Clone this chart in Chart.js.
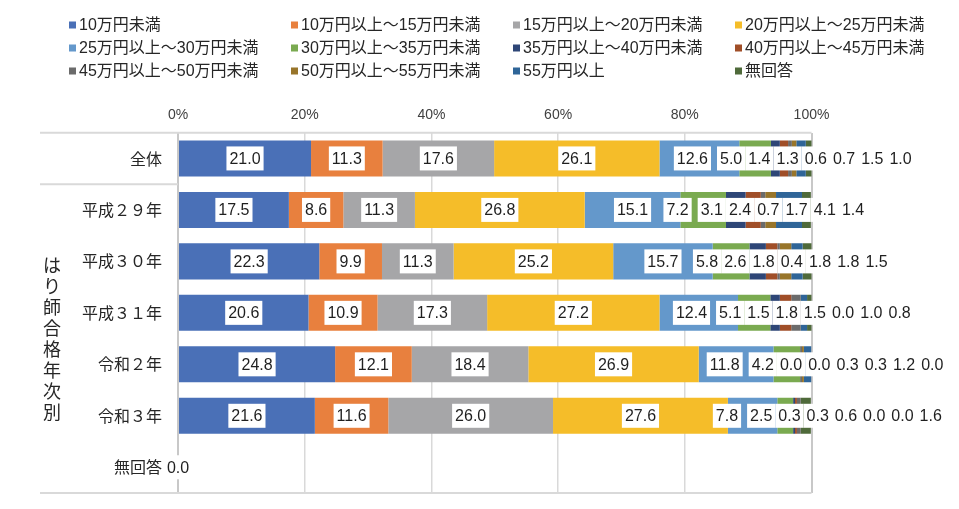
<!DOCTYPE html>
<html lang="ja">
<head>
<meta charset="utf-8">
<script src="https://cdn.jsdelivr.net/npm/chart.js@4.4.1/dist/chart.umd.min.js"></script>
<style>
  html, body { margin: 0; padding: 0; background: #fff; }
  #wrap { position: relative; width: 959px; height: 509px; }
</style>
</head>
<body>
<div id="wrap"><canvas id="incomeChart"></canvas></div>
<script>
// categories (top to bottom)
const categories = ['全体', '平成２９年', '平成３０年', '平成３１年', '令和２年', '令和３年', '無回答'];
const axisTitle = 'はり師合格年次別';

const seriesNames = [
  '10万円未満', '10万円以上～15万円未満', '15万円以上～20万円未満', '20万円以上～25万円未満',
  '25万円以上～30万円未満', '30万円以上～35万円未満', '35万円以上～40万円未満', '40万円以上～45万円未満',
  '45万円以上～50万円未満', '50万円以上～55万円未満', '55万円以上', '無回答'
];
const seriesColors = [
  '#4A70B7', '#E8803E', '#A6A6A8', '#F5BD29', '#6498CB', '#7AAA50',
  '#2E4677', '#A04E28', '#6B6B6B', '#98752A', '#2F6598', '#4F6A3A'
];

// percentages per category
const under10    = [21.0, 17.5, 22.3, 20.6, 24.8, 21.6, 0];
const from10to15 = [11.3,  8.6,  9.9, 10.9, 12.1, 11.6, 0];
const from15to20 = [17.6, 11.3, 11.3, 17.3, 18.4, 26.0, 0];
const from20to25 = [26.1, 26.8, 25.2, 27.2, 26.9, 27.6, 0];
const from25to30 = [12.6, 15.1, 15.7, 12.4, 11.8,  7.8, 0];
const from30to35 = [ 5.0,  7.2,  5.8,  5.1,  4.2,  2.5, 0];
const from35to40 = [ 1.4,  3.1,  2.6,  1.5,  0.0,  0.3, 0];
const from40to45 = [ 1.3,  2.4,  1.8,  1.8,  0.0,  0.3, 0];
const from45to50 = [ 0.6,  0.7,  0.4,  1.5,  0.3,  0.6, 0];
const from50to55 = [ 0.7,  1.7,  1.8,  0.0,  0.3,  0.0, 0];
const over55     = [ 1.5,  4.1,  1.8,  1.0,  1.2,  0.0, 0];
const noAnswer   = [ 1.0,  1.4,  1.5,  0.8,  0.0,  1.6, 0];

const xTicks = [0, 20, 40, 60, 80, 100];

const seriesValues = [under10, from10to15, from15to20, from20to25, from25to30, from30to35,
  from35to40, from40to45, from45to50, from50to55, over55, noAnswer];

const NUM_FONT = '"Liberation Sans", Arial, sans-serif';
const JP_FONT = '"Noto Sans CJK JP", sans-serif';

// legend drawn as a fixed 4 column grid like the original
const legendGrid = {
  id: 'legendGrid',
  afterDraw(chart) {
    const ctx = chart.ctx;
    ctx.save();
    ctx.font = '16px "Liberation Sans", ' + JP_FONT;
    ctx.textBaseline = 'middle';
    ctx.textAlign = 'left';
    chart.data.datasets.forEach((ds, i) => {
      const x = 69 + (i % 4) * 222;
      const y = 25 + Math.floor(i / 4) * 23;
      ctx.fillStyle = ds.backgroundColor;
      ctx.fillRect(x, y - 3.5, 7, 7);
      ctx.fillStyle = '#262626';
      ctx.fillText(ds.label, x + 10, y + 1);
    });
    ctx.restore();
  }
};

// group separators + vertical axis title
const frame = {
  id: 'frame',
  beforeDatasetsDraw(chart) {
    const { ctx, chartArea, scales: { y } } = chart;
    const step = y.getPixelForValue(1) - y.getPixelForValue(0);
    ctx.save();
    ctx.strokeStyle = '#D9D9D9';
    ctx.lineWidth = 2;
    ctx.beginPath();
    ctx.moveTo(40, chartArea.top); ctx.lineTo(chartArea.right, chartArea.top);
    ctx.moveTo(40, chartArea.bottom); ctx.lineTo(chartArea.right, chartArea.bottom);
    const mid = y.getPixelForValue(0) + step / 2;
    ctx.moveTo(40, mid); ctx.lineTo(chartArea.left, mid);
    ctx.stroke();

    ctx.fillStyle = '#262626';
    ctx.font = '18px ' + JP_FONT;
    ctx.textAlign = 'center';
    ctx.textBaseline = 'middle';
    [...axisTitle].forEach((ch, k) => ctx.fillText(ch, 52, 265 + k * 21));
    ctx.restore();
  }
};

// white boxed value labels, small ones chained to the right
const segmentLabels = {
  id: 'segmentLabels',
  afterDatasetsDraw(chart) {
    const ctx = chart.ctx;
    const h = 24, pad = 3;
    ctx.save();
    ctx.font = '16px ' + NUM_FONT;
    categories.forEach((cat, i) => {
      let items = chart.data.datasets.map((ds, d) => {
        const bar = chart.getDatasetMeta(d).data[i];
        const text = ds.data[i].toFixed(1);
        return { text, w: ctx.measureText(text).width + pad * 2, x: (bar.x + bar.base) / 2, y: bar.y };
      });
      const total = chart.data.datasets.reduce((s, ds) => s + ds.data[i], 0);
      if (total === 0) items = items.slice(0, 1);

      // push overlapping labels to the right, forming chains
      const chains = [];
      items.forEach(it => {
        const last = chains[chains.length - 1];
        const prev = last && last[last.length - 1];
        if (prev && it.x - it.w / 2 < prev.x + prev.w / 2) {
          it.x = prev.x + prev.w / 2 + it.w / 2;
          last.push(it);
        } else chains.push([it]);
        it.chain = chains.length;
      });
      chains.forEach(c => { if (c.length > 1) c.forEach(it => { it.x -= 24; }); });
      for (let k = items.length - 2; k >= 0; k--) {
        const a = items[k], b = items[k + 1];
        const gap = a.chain === b.chain ? 0 : 6;
        const limit = b.x - b.w / 2 - gap - a.w / 2;
        if (a.x > limit) a.x = limit;
      }

      items.forEach(it => {
        ctx.fillStyle = '#fff';
        ctx.fillRect(it.x - it.w / 2, it.y - h / 2, it.w, h);
        ctx.fillStyle = '#1f1f1f';
        ctx.textAlign = 'center';
        ctx.textBaseline = 'middle';
        ctx.fillText(it.text, it.x, it.y + 1);
      });
    });
    ctx.restore();
  }
};

new Chart(document.getElementById('incomeChart'), {
  type: 'bar',
  data: {
    labels: categories,
    datasets: seriesNames.map((name, i) => ({
      label: name,
      data: seriesValues[i],
      backgroundColor: seriesColors[i],
      borderWidth: 0,
      barPercentage: 0.7,
      categoryPercentage: 1
    }))
  },
  options: {
    indexAxis: 'y',
    responsive: true,
    maintainAspectRatio: false,
    animation: false,
    layout: { padding: { left: 0, right: 147.5, top: 0, bottom: 16 } },
    plugins: { legend: { display: false }, tooltip: { enabled: false } },
    scales: {
      x: {
        stacked: true,
        position: 'top',
        min: 0, max: 100,
        afterBuildTicks: s => { s.ticks = xTicks.map(v => ({ value: v })); },
        afterFit: s => { s.height = 132.7; s.paddingLeft = 0; s.paddingRight = 0; },
        ticks: {
          callback: v => v + '%',
          color: '#404040',
          font: { family: NUM_FONT, size: 14 },
          padding: 9
        },
        grid: {
          drawTicks: false,
          color: c => (c.tick && (c.tick.value === 0 || c.tick.value === 100)) ? '#C8C8C8' : '#D9D9D9',
          lineWidth: c => (c.tick && (c.tick.value === 0 || c.tick.value === 100)) ? 2 : 1.5
        },
        border: { display: false }
      },
      y: {
        stacked: true,
        afterFit: s => { s.width = 178; s.paddingTop = 0; s.paddingBottom = 0; },
        ticks: {
          autoSkip: false,
          color: '#262626',
          font: { family: JP_FONT, size: 16 },
          padding: 16
        },
        grid: { display: false, drawTicks: false },
        border: { display: false }
      }
    }
  },
  plugins: [frame, segmentLabels, legendGrid]
});
</script>
</body>
</html>
